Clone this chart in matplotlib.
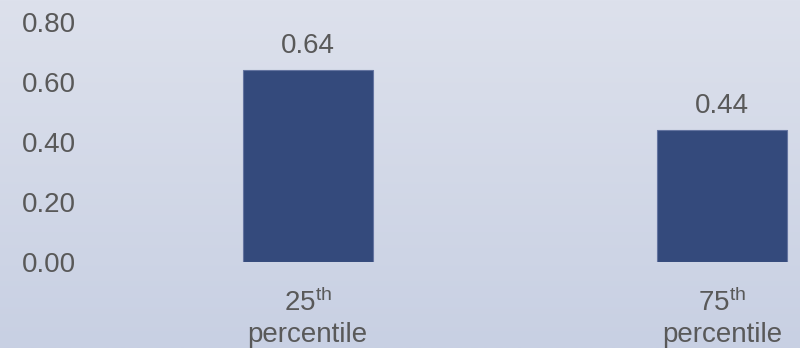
import numpy as np
import matplotlib
matplotlib.use('Agg')
from matplotlib import pyplot as plt
from matplotlib.colors import LinearSegmentedColormap

plt.rcParams['font.family'] = ['Liberation Sans', 'DejaVu Sans']
plt.rcParams['mathtext.fontset'] = 'custom'
plt.rcParams['mathtext.rm'] = 'Liberation Sans'
plt.rcParams['mathtext.it'] = 'Liberation Sans'

# data
categories = ['25$^{\\mathrm{th}}$\npercentile', '75$^{\\mathrm{th}}$\npercentile']
values = [0.64, 0.44]
yticks = [0.0, 0.2, 0.4, 0.6, 0.8]

text_color = '#595959'
bar_color = '#344a7c'

fig = plt.figure(figsize=(8.0, 3.48), dpi=100)

# background gradient
bg = fig.add_axes([0, 0, 1, 1], zorder=-10)
cmap = LinearSegmentedColormap.from_list('bg', ['#dde1ec', '#c8d0e3'])
bg.imshow(np.linspace(0, 1, 256).reshape(-1, 1), aspect='auto', cmap=cmap,
          extent=[0, 1, 0, 1])
bg.set_axis_off()

ax = fig.add_axes([90 / 800, 86 / 348, 710 / 800, 240 / 348])
ax.patch.set_alpha(0)
x = np.arange(len(values))
bars = ax.bar(x, values, width=0.314, color=bar_color, edgecolor='#6474a0', linewidth=0.8)
ax.bar_label(bars, labels=['{:.2f}'.format(v) for v in values], padding=8,
             fontsize=20, color=text_color)

ax.set_ylim(0, 0.8)
ax.set_xlim(-0.525, 1.188)
ax.set_yticks(yticks)
ax.set_yticklabels(['{:.2f}'.format(t) for t in yticks], fontsize=20, color=text_color)
ax.set_xticks(x)
ax.set_xticklabels(categories, fontsize=20, color=text_color, linespacing=1.25)
ax.tick_params(axis='both', length=0)
ax.tick_params(axis='y', pad=10)
ax.tick_params(axis='x', pad=19)
for s in ax.spines.values():
    s.set_visible(False)

fig.savefig('out.png', dpi=100)
